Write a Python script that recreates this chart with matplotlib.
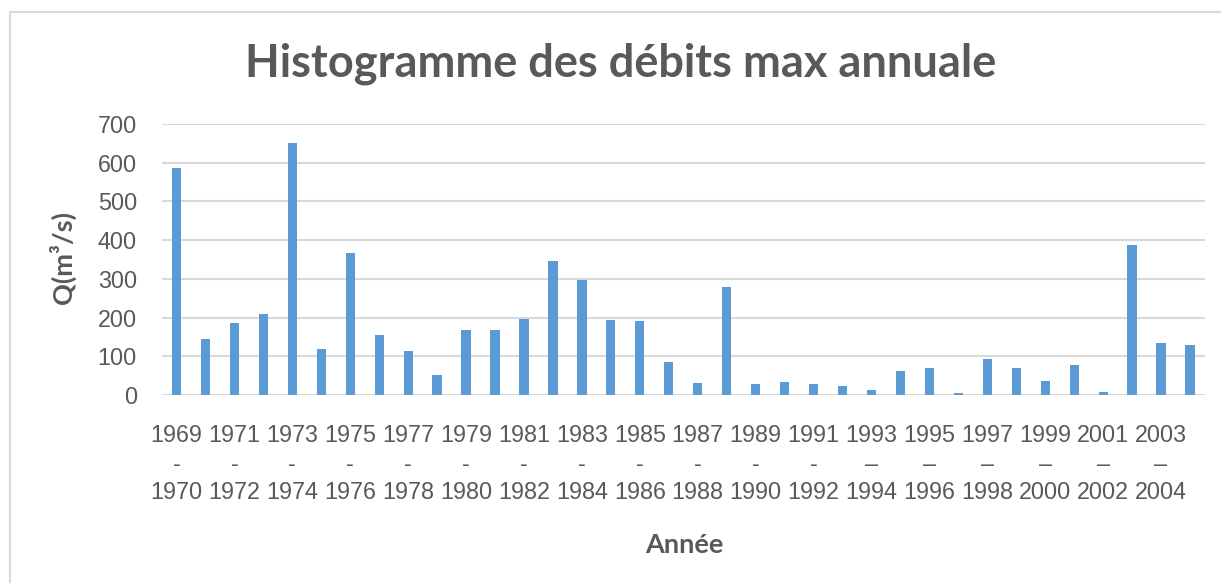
import matplotlib.pyplot as plt
from matplotlib.patches import Rectangle

# saisons hydrologiques 1969-1970 ... 2004-2005
start_years = list(range(1969, 2005))
debits = [586, 145, 185, 208, 652, 120, 367, 154, 114, 52,
          167, 167, 196, 345, 297, 195, 191, 86, 31, 280,
          28, 34, 28, 24, 12, 62, 70, 6, 93, 70,
          36, 78, 9, 388, 134, 130]
yticks = [0, 100, 200, 300, 400, 500, 600, 700]

labels = []
for y in start_years:
    sep = '-' if y < 1993 else '–'
    labels.append('%d\n%s\n%d' % (y, sep, y + 1))

gray = '#595959'
bar_color = '#5B9BD5'
grid_color = '#D9D9D9'

fig = plt.figure(figsize=(12.21, 5.83), dpi=100)
fig.patches.append(Rectangle((10 / 1221, -0.1), 1.2, 1 - 12 / 583 + 0.1,
                             transform=fig.transFigure, fill=False,
                             edgecolor=grid_color, linewidth=1.5))

ax = fig.add_axes([162 / 1221, 1 - 395 / 583, (1204.5 - 162) / 1221, (395 - 124) / 583])
x = list(range(len(debits)))
ax.bar(x, debits, width=0.32, color=bar_color, zorder=3)

ax.set_xlim(-0.5, len(debits) - 0.5)
ax.set_ylim(0, 700)
ax.set_yticks(yticks)
ax.set_xticks(x[::2])
ax.set_xticklabels(labels[::2], fontfamily='Liberation Sans', fontsize=16.8,
                   color=gray, linespacing=1.3)
for t in ax.get_yticklabels():
    t.set_fontfamily('Liberation Sans')
    t.set_fontsize(16.8)
    t.set_color(gray)

ax.tick_params(axis='x', length=0, pad=21)
ax.tick_params(axis='y', length=0, pad=18)
ax.grid(axis='y', color=grid_color, linewidth=1.5, zorder=0)
for s in ax.spines.values():
    s.set_visible(False)

fig.text(621 / 1221, 1 - 64 / 583, 'Histogramme des débits max annuale',
         ha='center', va='center', fontfamily='Lato', fontweight='bold',
         fontsize=32.5, color=gray)
fig.text(62 / 1221, 1 - 258 / 583, 'Q(m³/s)', rotation=90, ha='center',
         va='center', fontfamily='Lato', fontweight='bold', fontsize=19.5,
         color=gray)
fig.text(684 / 1221, 1 - 545 / 583, 'Année', ha='center', va='center',
         fontfamily='Lato', fontweight='bold', fontsize=19.5, color=gray)

fig.savefig('out.png', dpi=100)
